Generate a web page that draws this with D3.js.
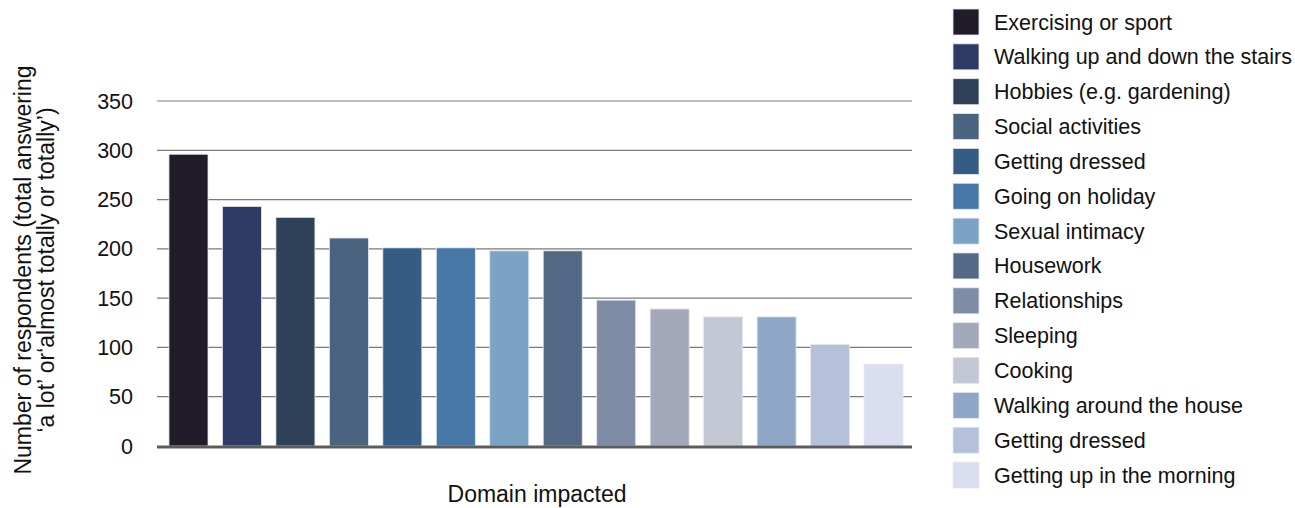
<!DOCTYPE html>
<html>
<head>
<meta charset="utf-8">
<script src="https://cdn.jsdelivr.net/npm/d3@7"></script>
<style>
  body { margin: 0; background: #fff; }
  text { font-family: "Liberation Sans", Arial, sans-serif; fill: #111; }
</style>
</head>
<body>
<svg id="chart" width="1295" height="508"></svg>
<script>
const domains = [
  "Exercising or sport", "Walking up and down the stairs", "Hobbies (e.g. gardening)",
  "Social activities", "Getting dressed", "Going on holiday", "Sexual intimacy",
  "Housework", "Relationships", "Sleeping", "Cooking", "Walking around the house",
  "Getting dressed", "Getting up in the morning"
];
const respondents = [296, 243, 232, 211, 201, 201, 198, 198, 148, 139, 131, 131, 103, 83];
const colours = [
  "#211b2a", "#2d3a64", "#2f4059", "#4a6480", "#355c84", "#4677a6", "#7aa3c6",
  "#526884", "#7f8ca5", "#a3a9bb", "#c3c8d4", "#8ea7c6", "#b5c1db", "#dbddf1"
];
const yTicks = [0, 50, 100, 150, 200, 250, 300, 350];

const svg = d3.select("#chart");
const plotLeft = 157, plotRight = 912, plotTop = 101, plotBottom = 446;

const x = d3.scaleBand()
  .domain(d3.range(domains.length))
  .range([160, plotRight])
  .paddingInner(0.27)
  .paddingOuter(0.168);

const y = d3.scaleLinear().domain([0, 350]).range([plotBottom, plotTop]);

// gridlines
svg.append("g")
  .selectAll("line")
  .data(yTicks.filter(d => d > 0))
  .join("line")
    .attr("x1", plotLeft).attr("x2", plotRight)
    .attr("y1", d => y(d)).attr("y2", d => y(d))
    .attr("stroke", "#7a7a7a")
    .attr("stroke-width", 1.2);

// tick labels
svg.append("g")
  .selectAll("text")
  .data(yTicks)
  .join("text")
    .attr("x", 133)
    .attr("y", d => y(d))
    .attr("dy", "0.35em")
    .attr("text-anchor", "end")
    .style("font-size", "21.5px")
    .text(d => d);

// bars
svg.append("g")
  .selectAll("rect")
  .data(respondents)
  .join("rect")
    .attr("x", (d, i) => x(i))
    .attr("y", d => y(d))
    .attr("width", x.bandwidth())
    .attr("height", d => plotBottom - y(d))
    .attr("fill", (d, i) => colours[i])
    .attr("stroke", "#e6e8ef")
    .attr("stroke-width", 0.8);

// baseline
svg.append("line")
  .attr("x1", plotLeft).attr("x2", plotRight)
  .attr("y1", plotBottom + 1).attr("y2", plotBottom + 1)
  .attr("stroke", "#5c5c5c")
  .attr("stroke-width", 3);

// axis titles
const yTitle = svg.append("text")
  .attr("transform", "translate(36,270) rotate(-90)")
  .attr("text-anchor", "middle")
  .style("font-size", "23px");
yTitle.append("tspan").attr("x", 0).attr("dy", "-0.2em").text("Number of respondents (total answering");
yTitle.append("tspan").attr("x", 0).attr("dy", "1.0em").text("\u2018a lot\u2019 or\u2018almost totally or totally\u2019)");

svg.append("text")
  .attr("x", 537)
  .attr("y", 502)
  .attr("text-anchor", "middle")
  .style("font-size", "23px")
  .text("Domain impacted");

// legend
const legend = svg.append("g")
  .selectAll("g")
  .data(domains)
  .join("g")
    .attr("transform", (d, i) => `translate(953,${9 + i * 34.85})`);

legend.append("rect")
  .attr("width", 26)
  .attr("height", 26)
  .attr("fill", (d, i) => colours[i])
  .attr("stroke", "#e6e8ef")
  .attr("stroke-width", 0.8);

legend.append("text")
  .attr("x", 41)
  .attr("y", 13)
  .attr("dy", "0.35em")
  .style("font-size", "21.5px")
  .text(d => d);
</script>
</body>
</html>
